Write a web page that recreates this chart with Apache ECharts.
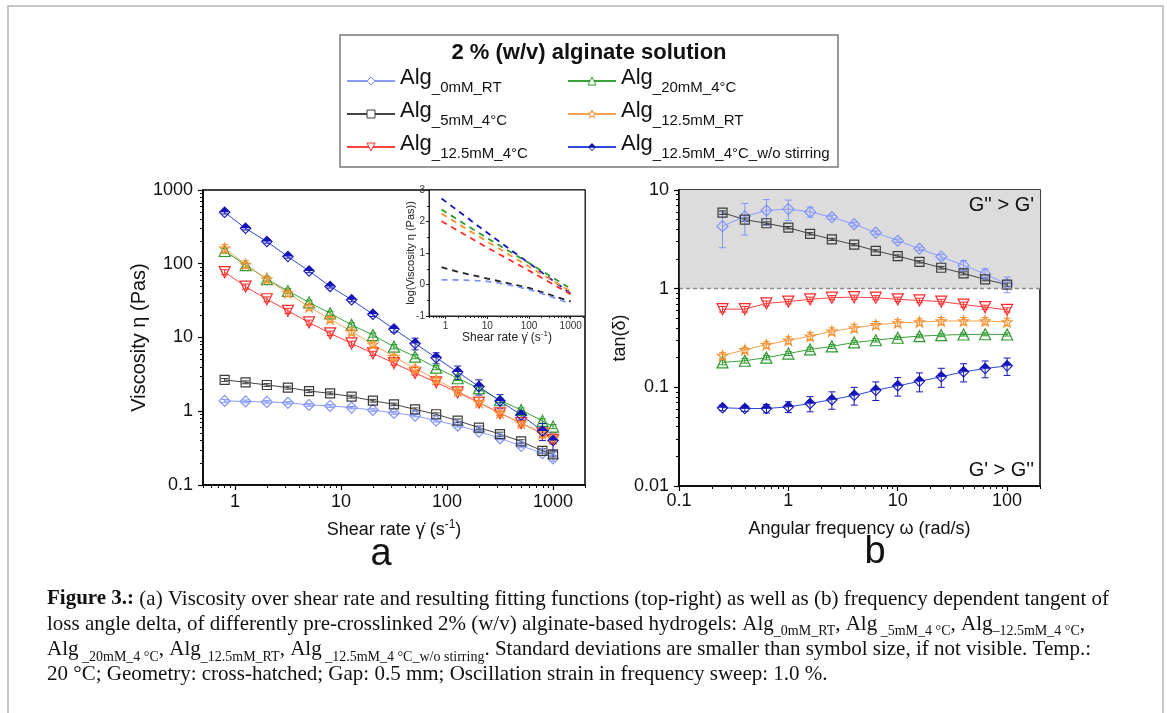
<!DOCTYPE html>
<html><head><meta charset="utf-8">
<script src="https://cdn.jsdelivr.net/npm/echarts@6/dist/echarts.min.js"></script>
<style>html,body{margin:0;padding:0;background:#fff}#c{width:1167px;height:713px}</style>
</head><body><div id="c"></div>
<script>
// ---------- DATA ----------
const seriesNames = ['Alg_0mM_RT','Alg_5mM_4°C','Alg_12.5mM_4°C','Alg_20mM_4°C','Alg_12.5mM_RT','Alg_12.5mM_4°C_w/o stirring'];

// (a) viscosity vs shear rate
const shearRate = [0.8,1.26,2,3.16,5,7.9,12.6,20,31.6,50,79,126,200,316,500,794,1000];
const visc0mM   = [1.38,1.36,1.34,1.30,1.22,1.18,1.12,1.04,0.95,0.87,0.745,0.64,0.53,0.43,0.34,0.27,0.23];
const visc5mM   = [2.66,2.47,2.27,2.09,1.88,1.75,1.58,1.39,1.24,1.06,0.91,0.745,0.60,0.49,0.39,0.29,0.26];
const visc125_4C= [77,49,33,23,16,11.4,8.3,6.1,4.5,3.3,2.47,1.80,1.31,0.94,0.69,0.50,0.41];
const visc20mM  = [149,96,62,42.7,30,21.3,14.8,10.8,7.5,5.5,3.9,2.8,2.04,1.41,1.04,0.74,0.62];
const visc125RT = [162,98,62,40,26,17.8,12,8.1,5.5,3.8,2.7,1.88,1.32,0.95,0.69,0.50,0.43];
const viscWoStir= [498,302,200,125,79.6,49.3,32.5,20.6,13.0,8.3,5.3,3.4,2.16,1.38,0.89,0.54,0.40];
const errVisc0mM   = [0.06,0.06,0.05,0.05,0.05,0.05,0.04,0.04,0.04,0.03,0.03,0.03,0.02,0.02,0.02,0.02,0.02];
const errVisc5mM   = [0.12,0.11,0.1,0.1,0.09,0.08,0.07,0.06,0.05,0.05,0.04,0.04,0.03,0.03,0.02,0.02,0.02];
const errVisc125_4C= [6,4,2.5,1.8,1.2,0.8,0.6,0.4,0.3,0.2,0.15,0.1,0.08,0.06,0.05,0.05,0.05];
const errVisc20mM  = [10,6,4,3,2,1.4,1,0.7,0.5,0.35,0.25,0.2,0.15,0.1,0.07,0.05,0.04];
const errVisc125RT = [20,12,6,4,2.5,1.5,1,0.6,0.4,0.3,0.2,0.12,0.08,0.06,0.05,0.04,0.03];
const errViscWoStir= [25,15,10,6,4,2.5,2,1.3,1.2,1.5,0.9,0.7,0.5,0.3,0.13,0.14,0.11];

// inset: fitting functions log(viscosity)
const fitX4     = [0.8,10,100,1000];
const fitWoStir = [2.73,1.64,0.68,-0.29];
const fitX20    = [0.8,10,100,870];
const fit20mM   = [2.38,1.47,0.68,-0.08];
const fit125RT  = [2.25,1.36,0.57,-0.22];
const fit125_4C = [2.01,1.17,0.44,-0.31];
const fitX5     = [0.8,2,10,100,1000];
const fit5mM    = [0.55,0.40,0.19,-0.11,-0.54];
const fitX0     = [0.8,3,10,30,100,300,1000];
const fit0mM    = [0.15,0.14,0.10,0.0,-0.16,-0.36,-0.61];

// (b) tan(delta) vs angular frequency
const angFreq   = [0.25,0.4,0.63,1,1.58,2.5,4,6.3,10,15.8,25,40,63,100];
const tan0mM    = [4.3,5.4,6.2,6.4,6.0,5.3,4.5,3.7,3.06,2.54,2.11,1.72,1.41,1.11];
const tan5mM    = [5.9,5.0,4.6,4.15,3.6,3.16,2.79,2.42,2.14,1.87,1.63,1.43,1.24,1.10];
const tan125_4C = [0.62,0.62,0.71,0.74,0.78,0.81,0.82,0.81,0.78,0.76,0.74,0.69,0.65,0.61];
const tan125RT  = [0.21,0.24,0.27,0.30,0.33,0.37,0.40,0.43,0.45,0.46,0.47,0.47,0.47,0.46];
const tan20mM   = [0.179,0.186,0.20,0.22,0.242,0.26,0.285,0.30,0.318,0.33,0.338,0.343,0.345,0.343];
const tanWoStir = [0.062,0.061,0.061,0.0634,0.0685,0.075,0.083,0.0935,0.1035,0.115,0.128,0.1435,0.155,0.165];
const errTan0mM    = [1.7,1.9,1.8,1.5,0.7,0.25,0.2,0.15,0.12,0.1,0.12,0.2,0.18,0.2];
const errTan5mM    = [0.25,0.2,0.15,0.12,0.1,0.08,0.07,0.06,0.06,0.05,0.05,0.05,0.04,0.04];
const errTan125_4C = [0.04,0.04,0.04,0.04,0.04,0.04,0.04,0.04,0.04,0.04,0.04,0.04,0.03,0.03];
const errTan125RT  = [0.015,0.015,0.02,0.025,0.03,0.03,0.035,0.035,0.035,0.035,0.04,0.04,0.04,0.04];
const errTan20mM   = [0.01,0.01,0.01,0.01,0.012,0.012,0.012,0.012,0.012,0.012,0.012,0.012,0.012,0.012];
const errTanWoStir = [0.004,0.004,0.006,0.008,0.012,0.015,0.017,0.02,0.022,0.025,0.028,0.03,0.03,0.033];
const bandRange = [1,10];

// tick values
const xTicksA = [1,10,100,1000];
const yTicksA = [0.1,1,10,100,1000];
const xMinorA = [0.5,0.6,0.7,0.8,0.9,2,3,4,5,6,7,8,9,20,30,40,50,60,70,80,90,200,300,400,500,600,700,800,900,2000];
const yMinorA = [0.2,0.3,0.4,0.5,0.6,0.7,0.8,0.9,2,3,4,5,6,7,8,9,20,30,40,50,60,70,80,90,200,300,400,500,600,700,800,900];
const xTicksB = [0.1,1,10,100];
const yTicksB = [0.01,0.1,1,10];
const xMinorB = [0.2,0.3,0.4,0.5,0.6,0.7,0.8,0.9,2,3,4,5,6,7,8,9,20,30,40,50,60,70,80,90,200];
const yMinorB = [0.02,0.03,0.04,0.05,0.06,0.07,0.08,0.09,0.2,0.3,0.4,0.5,0.6,0.7,0.8,0.9,2,3,4,5,6,7,8,9];
const xTicksIn = [1,10,100,1000];
const xMinorIn = [0.4,0.5,0.6,0.7,0.8,0.9,2,3,4,5,6,7,8,9,20,30,40,50,60,70,80,90,200,300,400,500,600,700,800,900,2000];

// ---------- STYLES ----------
const STAR = 'path://M10 0L12.35 6.76L19.51 6.91L13.8 11.24L15.88 18.09L10 14L4.12 18.09L6.2 11.24L0.49 6.91L7.65 6.76Z';
const HALFDIA = 'path://M10 0L20 10L10 20L0 10Z M10 2.6L2.6 10L10 17.4L17.4 10Z M10 2.6L17.4 10L2.6 10Z';
const sty = {
  'Alg_0mM_RT':      {c:'#8094f8', line:'#8a9cff', symbol:'diamond', size:11},
  'Alg_5mM_4°C':     {c:'#3a3a3a', line:'#444444', symbol:'rect', size:9},
  'Alg_12.5mM_4°C':  {c:'#ff2a2a', line:'#ff4040', symbol:'triangle', rotate:180, size:11},
  'Alg_20mM_4°C':    {c:'#2e9a2e', line:'#3aa03a', symbol:'triangle', size:11},
  'Alg_12.5mM_RT':   {c:'#f79232', line:'#f7a050', symbol:STAR, size:10},
  'Alg_12.5mM_4°C_w/o stirring': {c:'#1414b8', line:'#3048d8', symbol:HALFDIA, size:12, filled:true}
};
const FONT = 'Liberation Sans';
const fmt = v => String(parseFloat((+v).toPrecision(6)));

function lineSeries(name, xs, ys, xi, yi) {
  const s = sty[name];
  return {
    type:'line', name, xAxisIndex:xi, yAxisIndex:yi,
    data: xs.map((x,i)=>[x, ys[i]]),
    symbol:s.symbol, symbolSize:s.size, symbolRotate:s.rotate||0, showSymbol:true,
    lineStyle:{color:s.line, width:1},
    itemStyle: s.filled ? {color:s.c, borderWidth:0} : {color:'rgba(255,255,255,0)', borderColor:s.c, borderWidth:1.2},
    emphasis:{disabled:true}, z:3, silent:true
  };
}
function errRender(params, api) {
  const x = api.value(0), lo = api.value(1), hi = api.value(2);
  const p1 = api.coord([x, hi]), p2 = api.coord([x, lo]);
  const w = 3.5;
  const st = {stroke: api.visual('color'), lineWidth: 1};
  return {type:'group', children:[
    {type:'line', shape:{x1:p1[0],y1:p1[1],x2:p2[0],y2:p2[1]}, style:st},
    {type:'line', shape:{x1:p1[0]-w,y1:p1[1],x2:p1[0]+w,y2:p1[1]}, style:st},
    {type:'line', shape:{x1:p2[0]-w,y1:p2[1],x2:p2[0]+w,y2:p2[1]}, style:st}
  ]};
}
function errSeries(name, xs, ys, es, xi, yi) {
  return {
    type:'custom', name: name+' err', xAxisIndex:xi, yAxisIndex:yi,
    data: xs.map((x,i)=>[x, ys[i]-es[i], ys[i]+es[i]]),
    encode:{x:0, y:[1,2]}, itemStyle:{color: sty[name].c},
    renderItem: errRender, z:2, silent:true
  };
}
function fitSeries(name, xs, ys) {
  return {
    type:'line', name:'fit '+name, xAxisIndex:4, yAxisIndex:4,
    data: xs.map((x,i)=>[x, ys[i]]), showSymbol:false, symbol:'none',
    lineStyle:{color: sty[name].line === '#444444' ? '#222' : sty[name].c, width:1.8, type:[6,5]},
    z:7, silent:true
  };
}

function mainAxis(o) {
  return Object.assign({
    type:'log', logBase:10, splitLine:{show:false},
    axisLine:{show:true, onZero:false, lineStyle:{color:'#000', width:1.5}},
    axisTick:{show:true, inside:false, length:5, lineStyle:{color:'#000', width:1.2}},
    axisLabel:{fontSize:18, color:'#111', fontFamily:FONT, formatter:fmt},
    nameTextStyle:{fontSize:18, color:'#111', fontFamily:FONT},
    nameLocation:'middle', nameMoveOverlap:false, z:5
  }, o);
}
function minorAxis(o) {
  return Object.assign({
    type:'log', logBase:10, splitLine:{show:false},
    axisLine:{show:false, onZero:false}, axisLabel:{show:false},
    axisTick:{show:true, inside:false, length:3, lineStyle:{color:'#000', width:1}},
    z:5
  }, o);
}

const leg = name => '{a|Alg}{s|' + name.slice(3) + '}';
const legRich = {
  a:{fontSize:22, fontFamily:FONT, color:'#111', verticalAlign:'bottom', padding:[0,0,6,0]},
  s:{fontSize:15, fontFamily:FONT, color:'#111', verticalAlign:'bottom'}
};
function legendCol(names, left) {
  return {
    orient:'vertical', left, top:67, padding:0, itemWidth:48, itemHeight:10, itemGap:5,
    selectedMode:false, formatter:leg, textStyle:{rich:legRich},
    data: names.map(n => sty[n].filled ? {name:n} : {name:n, itemStyle:{color:'#fff', borderWidth:1}})
  };
}

const capRich = {
  n:{fontFamily:'Liberation Serif', fontSize:21, color:'#111', verticalAlign:'bottom', padding:[0,0,4,0]},
  b:{fontFamily:'Liberation Serif', fontSize:21, fontWeight:'bold', color:'#111', verticalAlign:'bottom', padding:[0,0,4,0]},
  s:{fontFamily:'Liberation Serif', fontSize:14, color:'#111', verticalAlign:'bottom'}
};
const captionLines = [
  '{b|Figure 3.:}{n| (a) Viscosity over shear rate and resulting fitting functions (top-right) as well as (b) frequency dependent tangent of}',
  '{n|loss angle delta, of differently pre-crosslinked 2% (w/v) alginate-based hydrogels: Alg}{s|_0mM_RT}{n|, Alg}{s| _5mM_4 °C}{n|, Alg}{s|–12.5mM_4 °C}{n|,}',
  '{n|Alg}{s| _20mM_4 °C}{n|, Alg}{s|_12.5mM_RT}{n|, Alg}{s| _12.5mM_4 °C_w/o stirring}{n|. Standard deviations are smaller than symbol size, if not visible. Temp.:}',
  '{n|20 °C; Geometry: cross-hatched; Gap: 0.5 mm; Oscillation strain in frequency sweep: 1.0 %.}'
];

const option = {
  animation:false,
  backgroundColor:'#fff',
  grid:[
    {left:203, top:190, width:382, height:295, show:true, borderColor:'#000', borderWidth:1.5, backgroundColor:'rgba(0,0,0,0)', outerBoundsMode:'none', containLabel:false},
    {left:679, top:190, width:361, height:296, show:true, borderColor:'#000', borderWidth:1.5, backgroundColor:'rgba(0,0,0,0)', outerBoundsMode:'none', containLabel:false},
    {left:429, top:190, width:156, height:126, show:true, borderColor:'#222', borderWidth:1, backgroundColor:'#fff', z:3, outerBoundsMode:'none', containLabel:false}
  ],
  xAxis:[
    mainAxis({gridIndex:0, position:'bottom', min:0.5, max:2000,
      axisTick:{show:true, inside:false, length:5, customValues:xTicksA, lineStyle:{color:'#000', width:1.2}},
      axisLabel:{fontSize:18, color:'#111', fontFamily:FONT, formatter:fmt, margin:8, customValues:xTicksA},
      name:'Shear rate γ̇ (s{sup|-1})', nameGap:34,
      nameTextStyle:{fontSize:18, color:'#111', fontFamily:FONT, rich:{sup:{fontSize:12, fontFamily:FONT, color:'#111', padding:[0,0,10,0]}}}}),
    minorAxis({gridIndex:0, position:'bottom', min:0.5, max:2000,
      axisTick:{show:true, inside:false, length:3, customValues:xMinorA, lineStyle:{color:'#000', width:1}}}),
    mainAxis({gridIndex:1, position:'bottom', min:0.1, max:200,
      axisTick:{show:true, inside:false, length:5, customValues:xTicksB, lineStyle:{color:'#000', width:1.2}},
      axisLabel:{fontSize:18, color:'#111', fontFamily:FONT, formatter:fmt, margin:6, customValues:xTicksB},
      name:'Angular frequency ω (rad/s)', nameGap:34}),
    minorAxis({gridIndex:1, position:'bottom', min:0.1, max:200,
      axisTick:{show:true, inside:false, length:3, customValues:xMinorB, lineStyle:{color:'#000', width:1}}}),
    mainAxis({gridIndex:2, position:'bottom', min:0.4, max:2200, z:6,
      axisLine:{show:true, onZero:false, lineStyle:{color:'#222', width:1}},
      axisTick:{show:true, inside:false, length:3, customValues:xTicksIn, lineStyle:{color:'#222', width:1}},
      axisLabel:{fontSize:10, color:'#333', fontFamily:FONT, formatter:fmt, margin:5, customValues:xTicksIn},
      name:'Shear rate γ̇ (s{sup|-1})', nameGap:14,
      nameTextStyle:{fontSize:12, color:'#222', fontFamily:FONT, rich:{sup:{fontSize:8, fontFamily:FONT, color:'#222', padding:[0,0,7,0]}}}}),
    minorAxis({gridIndex:2, position:'bottom', min:0.4, max:2200, z:6,
      axisTick:{show:true, inside:false, length:2, customValues:xMinorIn, lineStyle:{color:'#222', width:1}}})
  ],
  yAxis:[
    mainAxis({gridIndex:0, position:'left', min:0.1, max:1000,
      axisTick:{show:true, inside:false, length:5, customValues:yTicksA, lineStyle:{color:'#000', width:1.2}},
      axisLabel:{fontSize:18, color:'#111', fontFamily:FONT, formatter:fmt, margin:10, customValues:yTicksA},
      name:'Viscosity η (Pas)', nameGap:54, nameTextStyle:{fontSize:20, color:'#111', fontFamily:FONT}}),
    minorAxis({gridIndex:0, position:'left', min:0.1, max:1000,
      axisTick:{show:true, inside:false, length:3, customValues:yMinorA, lineStyle:{color:'#000', width:1}}}),
    mainAxis({gridIndex:1, position:'left', min:0.01, max:10,
      axisTick:{show:true, inside:false, length:5, customValues:yTicksB, lineStyle:{color:'#000', width:1.2}},
      axisLabel:{fontSize:18, color:'#111', fontFamily:FONT, formatter:fmt, margin:10, customValues:yTicksB},
      name:'tan(δ)', nameGap:50}),
    minorAxis({gridIndex:1, position:'left', min:0.01, max:10,
      axisTick:{show:true, inside:false, length:3, customValues:yMinorB, lineStyle:{color:'#000', width:1}}}),
    {type:'value', gridIndex:2, position:'left', min:-1, max:3, interval:1, z:6,
      splitLine:{show:false},
      axisLine:{show:true, onZero:false, lineStyle:{color:'#222', width:1}},
      axisTick:{show:true, inside:false, length:3, lineStyle:{color:'#222', width:1}},
      minorTick:{show:true, splitNumber:2, length:2, lineStyle:{color:'#222', width:1}},
      axisLabel:{fontSize:10, color:'#333', fontFamily:FONT, margin:4},
      name:'log(Viscosity η (Pas))', nameLocation:'middle', nameGap:13, nameMoveOverlap:false,
      nameTextStyle:{fontSize:11, color:'#222', fontFamily:FONT}}
  ],
  legend:[
    legendCol(['Alg_0mM_RT','Alg_5mM_4°C','Alg_12.5mM_4°C'], 346),
    legendCol(['Alg_20mM_4°C','Alg_12.5mM_RT','Alg_12.5mM_4°C_w/o stirring'], 567)
  ],
  graphic:[
    {type:'rect', shape:{x:8, y:6, width:1155, height:730}, style:{fill:'none', stroke:'#b4b4b4', lineWidth:1.5}, silent:true},
    {type:'rect', shape:{x:340, y:35, width:498, height:132}, style:{fill:'none', stroke:'#7a7a7a', lineWidth:1.5}, silent:true},
    {type:'text', x:589, y:53, silent:true, style:{text:'2 % (w/v) alginate solution', font:'bold 22px "Liberation Sans"', fill:'#111', align:'center', verticalAlign:'middle'}},
    {type:'text', x:381, y:555, silent:true, style:{text:'a', font:'38px "Liberation Sans"', fill:'#111', align:'center', verticalAlign:'middle'}},
    {type:'text', x:875, y:553, silent:true, style:{text:'b', font:'38px "Liberation Sans"', fill:'#111', align:'center', verticalAlign:'middle'}},
    {type:'text', x:1034, y:205, z:10, silent:true, style:{text:"G'' > G'", font:'20px "Liberation Sans"', fill:'#111', align:'right', verticalAlign:'middle'}},
    {type:'text', x:1034, y:470, z:10, silent:true, style:{text:"G' > G''", font:'20px "Liberation Sans"', fill:'#111', align:'right', verticalAlign:'middle'}}
  ].concat(captionLines.map((t,i)=>({type:'text', x:47, y:601 + i*25.3, silent:true,
      style:{text:t, rich:capRich, fill:'#111', align:'left', verticalAlign:'middle'}}))),
  series:[
    // band and G'=G'' line for (b)
    {type:'line', name:'band', xAxisIndex:2, yAxisIndex:2, data:[], z:1, silent:true,
      markArea:{silent:true, itemStyle:{color:'#dcdcdc'}, data:[[{yAxis:bandRange[0]},{yAxis:bandRange[1]}]]},
      markLine:{silent:true, symbol:'none', label:{show:false}, lineStyle:{color:'#8a8a8a', type:[4,3], width:1.3}, data:[{yAxis:bandRange[0]}]}},
    // (a) error bars
    errSeries('Alg_0mM_RT', shearRate, visc0mM, errVisc0mM, 0, 0),
    errSeries('Alg_5mM_4°C', shearRate, visc5mM, errVisc5mM, 0, 0),
    errSeries('Alg_12.5mM_4°C', shearRate, visc125_4C, errVisc125_4C, 0, 0),
    errSeries('Alg_20mM_4°C', shearRate, visc20mM, errVisc20mM, 0, 0),
    errSeries('Alg_12.5mM_RT', shearRate, visc125RT, errVisc125RT, 0, 0),
    errSeries('Alg_12.5mM_4°C_w/o stirring', shearRate, viscWoStir, errViscWoStir, 0, 0),
    // (a) lines
    lineSeries('Alg_0mM_RT', shearRate, visc0mM, 0, 0),
    lineSeries('Alg_5mM_4°C', shearRate, visc5mM, 0, 0),
    lineSeries('Alg_12.5mM_4°C', shearRate, visc125_4C, 0, 0),
    lineSeries('Alg_20mM_4°C', shearRate, visc20mM, 0, 0),
    lineSeries('Alg_12.5mM_RT', shearRate, visc125RT, 0, 0),
    lineSeries('Alg_12.5mM_4°C_w/o stirring', shearRate, viscWoStir, 0, 0),
    // (b) error bars
    errSeries('Alg_0mM_RT', angFreq, tan0mM, errTan0mM, 2, 2),
    errSeries('Alg_5mM_4°C', angFreq, tan5mM, errTan5mM, 2, 2),
    errSeries('Alg_12.5mM_4°C', angFreq, tan125_4C, errTan125_4C, 2, 2),
    errSeries('Alg_20mM_4°C', angFreq, tan20mM, errTan20mM, 2, 2),
    errSeries('Alg_12.5mM_RT', angFreq, tan125RT, errTan125RT, 2, 2),
    errSeries('Alg_12.5mM_4°C_w/o stirring', angFreq, tanWoStir, errTanWoStir, 2, 2),
    // (b) lines
    lineSeries('Alg_0mM_RT', angFreq, tan0mM, 2, 2),
    lineSeries('Alg_5mM_4°C', angFreq, tan5mM, 2, 2),
    lineSeries('Alg_12.5mM_4°C', angFreq, tan125_4C, 2, 2),
    lineSeries('Alg_20mM_4°C', angFreq, tan20mM, 2, 2),
    lineSeries('Alg_12.5mM_RT', angFreq, tan125RT, 2, 2),
    lineSeries('Alg_12.5mM_4°C_w/o stirring', angFreq, tanWoStir, 2, 2),
    // inset fits
    fitSeries('Alg_12.5mM_4°C_w/o stirring', fitX4, fitWoStir),
    fitSeries('Alg_20mM_4°C', fitX20, fit20mM),
    fitSeries('Alg_12.5mM_RT', fitX4, fit125RT),
    fitSeries('Alg_12.5mM_4°C', fitX4, fit125_4C),
    fitSeries('Alg_5mM_4°C', fitX5, fit5mM),
    fitSeries('Alg_0mM_RT', fitX0, fit0mM)
  ]
};
const chart = echarts.init(document.getElementById('c'), null, {renderer:'canvas'});
chart.setOption(option);
</script>
</body></html>
